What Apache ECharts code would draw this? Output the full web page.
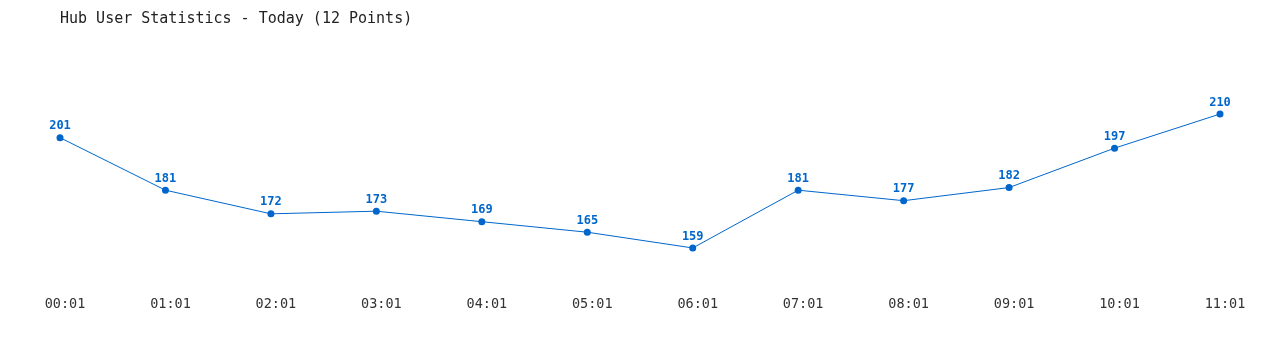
<!DOCTYPE html>
<html>
<head>
<meta charset="utf-8">
<script src="https://cdn.jsdelivr.net/npm/echarts@6/dist/echarts.min.js"></script>
<style>
html,body{margin:0;padding:0;background:#fff;}
#chart{width:1280px;height:350px;}
</style>
</head>
<body>
<div id="chart"></div>
<script>
const categories = ["00:01","01:01","02:01","03:01","04:01","05:01","06:01","07:01","08:01","09:01","10:01","11:01"];
const users = [201,181,172,173,169,165,159,181,177,182,197,210];
const titleText = "Hub User Statistics - Today (12 Points)";

const chart = echarts.init(document.getElementById('chart'));
chart.setOption({
  animation: false,
  backgroundColor: '#ffffff',
  title: {
    text: titleText,
    left: 55,
    top: 7,
    textStyle: {fontFamily: 'DejaVu Sans Mono', fontSize: 15, fontWeight: 'normal', color: '#222'}
  },
  grid: {left: 60, right: 60, top: 61.5, bottom: 78.4},
  xAxis: {
    type: 'category',
    data: categories,
    boundaryGap: false,
    axisLine: {show: false},
    axisTick: {show: false},
    axisLabel: {fontFamily: 'DejaVu Sans Mono', fontSize: 13.5, color: '#333', margin: 26, interval: 0, padding: [0, 0, 0, 10]}
  },
  yAxis: {
    type: 'value',
    min: 150,
    max: 230,
    show: false,
    splitLine: {show: false}
  },
  series: [{
    type: 'line',
    data: users,
    symbol: 'circle',
    symbolSize: 7,
    itemStyle: {color: '#0066cc'},
    lineStyle: {color: '#0066cc', width: 1},
    label: {
      show: true,
      position: 'top',
      distance: 2,
      fontFamily: 'DejaVu Sans Mono',
      fontSize: 12,
      fontWeight: 'bold',
      color: '#0066cc'
    }
  }]
});
</script>
</body>
</html>
